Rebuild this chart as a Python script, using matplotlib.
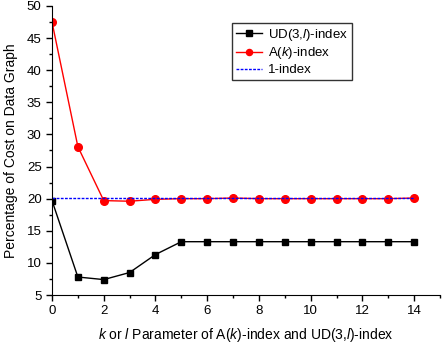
import matplotlib.pyplot as plt
from matplotlib.ticker import MultipleLocator

plt.rcParams['font.family'] = ['Liberation Sans', 'DejaVu Sans']
plt.rcParams['mathtext.fontset'] = 'custom'
plt.rcParams['mathtext.it'] = 'Liberation Sans:italic'
plt.rcParams['mathtext.rm'] = 'Liberation Sans'

# parameter k or l
x = [0, 1, 2, 3, 4, 5, 6, 7, 8, 9, 10, 11, 12, 13, 14]

# cost in percent for each index type
ud_index = [19.7, 7.8, 7.4, 8.5, 11.3, 13.3, 13.3, 13.3, 13.3, 13.3, 13.3, 13.3, 13.3, 13.3, 13.3]
a_index = [47.5, 28.1, 19.7, 19.6, 19.9, 20.0, 20.0, 20.1, 20.0, 20.0, 20.0, 20.0, 20.0, 20.0, 20.1]
one_index = [20.1] * len(x)

fig = plt.figure(figsize=(4.45, 3.43), dpi=100)
ax = fig.add_axes([52 / 445, 48 / 343, 388 / 445, 289 / 343])

ax.plot(x, ud_index, color='black', lw=1, marker='s', ms=4.8,
        label='UD(3,$\\mathit{l}$)-index')
ax.plot(x, a_index, color='red', lw=1, marker='o', ms=5.5,
        label='A($\\mathit{k}$)-index')
ax.plot(x, one_index, color='blue', lw=1, ls=(0, (2, 1)), label='1-index')

ax.set_ylim(5, 50)
ax.xaxis.set_major_locator(MultipleLocator(2))
ax.xaxis.set_minor_locator(MultipleLocator(1))
ax.yaxis.set_major_locator(MultipleLocator(5))
ax.yaxis.set_minor_locator(MultipleLocator(2.5))
ax.set_xticks(range(0, 15, 2))
ax.set_xlim(0, 15)

ax.spines['top'].set_visible(False)
ax.spines['right'].set_visible(False)
ax.tick_params(which='both', direction='out', labelsize=9.5, width=1)
ax.tick_params(which='major', length=4)
ax.tick_params(which='minor', length=2.5)

ax.set_ylabel('Percentage of Cost on Data Graph', fontsize=10, labelpad=6)
ax.set_xlabel('$\\mathit{k}$ or $\\mathit{l}$ Parameter of A($\\mathit{k}$)-index and UD(3,$\\mathit{l}$)-index',
              fontsize=10, labelpad=6)

leg = ax.legend(loc='upper left', bbox_to_anchor=(0.464, 0.942), borderaxespad=0,
                fontsize=9.5, frameon=True, fancybox=False, edgecolor='black',
                handlelength=2.0, borderpad=0.3, labelspacing=0.2,
                handletextpad=0.4, markerscale=0.8)
leg.get_frame().set_linewidth(1)

fig.savefig('out.png', dpi=100)
